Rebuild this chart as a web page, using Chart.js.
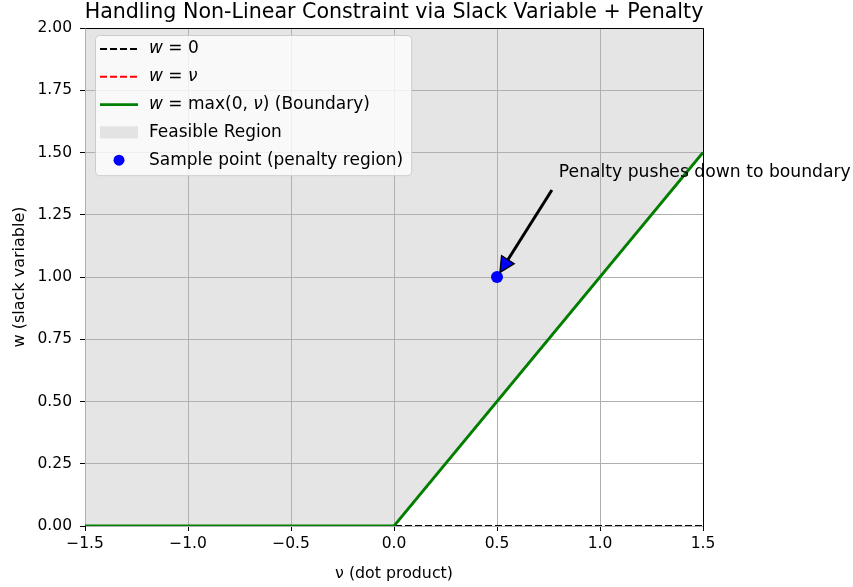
<!DOCTYPE html>
<html lang="en">
<head>
  <meta charset="UTF-8" />
  <title>Slack Variable + Penalty</title>
  <script src="https://cdn.jsdelivr.net/npm/chart.js"></script>
  <style>
    body { margin: 0; background: #fff; }
    .wrap { width: 853px; height: 587px; position: relative; }
  </style>
</head>
<body>
  <div class="wrap">
    <canvas id="chart"></canvas>
  </div>

  <script>
    // data
    const xTicks = [-1.5, -1.0, -0.5, 0.0, 0.5, 1.0, 1.5];
    const yTicks = [0, 0.25, 0.5, 0.75, 1.0, 1.25, 1.5, 1.75, 2.0];

    const zeroX = [-1.5, 1.5];
    const zeroY = [0, 0];
    const identX = [-1.5, 1.5];
    const identY = [-1.5, 1.5];
    const boundX = [-1.5, 0, 1.5];
    const boundY = [0, 0, 1.5];
    const sampleX = [0.5];
    const sampleY = [1.0];

    const noteText = 'Penalty pushes down to boundary';
    const noteFrom = [0.8, 1.4];
    const noteTo = [0.5, 1.0];

    const titleText = 'Handling Non-Linear Constraint via Slack Variable + Penalty';

    // legend labels as [text, italic] pieces (mathtext style)
    const legendLabels = [
      [['w', 1], [' = 0', 0]],
      [['w', 1], [' = ', 0], ['ν', 1]],
      [['w', 1], [' = max(0, ', 0], ['ν', 1], [') (Boundary)', 0]],
      [['Feasible Region', 0]],
      [['Sample point (penalty region)', 0]]
    ];

    const FONT = '"DejaVu Sans", Verdana, sans-serif';
    const FILL = 'rgba(211, 211, 211, 0.6)';
    const pts = (xs, ys) => xs.map((x, i) => ({ x: x, y: ys[i] }));
    const fmt = (v, d) => v.toFixed(d).replace('-', '\u2212');

    Chart.defaults.font.family = FONT;
    Chart.defaults.color = '#000';

    // matplotlib puts grid lines above the fill, so redraw them after it
    const gridOver = {
      id: 'gridOver',
      afterDatasetDraw(chart, args) {
        if (args.index !== 0) return;
        chart.scales.x.drawGrid(chart.chartArea);
        chart.scales.y.drawGrid(chart.chartArea);
      }
    };

    const frame = {
      id: 'frame',
      afterDraw(chart) {
        const { ctx, chartArea: a } = chart;
        ctx.save();
        ctx.strokeStyle = '#000';
        ctx.lineWidth = 1;
        ctx.beginPath();
        ctx.moveTo(Math.round(a.left) + 0.5, Math.round(a.top) + 0.5);
        ctx.lineTo(Math.round(a.right) + 0.5, Math.round(a.top) + 0.5);
        ctx.lineTo(Math.round(a.right) + 0.5, Math.round(a.bottom) + 0.5);
        ctx.stroke();

        // title
        ctx.font = '20.6px ' + FONT;
        ctx.fillStyle = '#000';
        ctx.textAlign = 'center';
        ctx.textBaseline = 'alphabetic';
        ctx.fillText(titleText, (a.left + a.right) / 2, 18);
        ctx.restore();
      }
    };

    const note = {
      id: 'note',
      afterDatasetsDraw(chart) {
        const { ctx, scales: { x, y } } = chart;
        const tx = x.getPixelForValue(noteFrom[0]), ty = y.getPixelForValue(noteFrom[1]);
        const px = x.getPixelForValue(noteTo[0]), py = y.getPixelForValue(noteTo[1]);
        const sx = tx - 4, sy = ty + 8;
        const dx = px - sx, dy = py - sy, len = Math.hypot(dx, dy);
        const ux = dx / len, uy = dy / len;
        const ax = sx + ux * len * 0.05, ay = sy + uy * len * 0.05;
        const bx = px - ux * len * 0.05, by = py - uy * len * 0.05;
        const headL = 15, headW = 7.5;
        const hx = bx - ux * headL, hy = by - uy * headL;

        ctx.save();
        ctx.strokeStyle = '#000';
        ctx.lineWidth = 3;
        ctx.beginPath();
        ctx.moveTo(ax, ay);
        ctx.lineTo(hx, hy);
        ctx.stroke();
        ctx.beginPath();
        ctx.moveTo(bx, by);
        ctx.lineTo(hx - uy * headW, hy + ux * headW);
        ctx.lineTo(hx + uy * headW, hy - ux * headW);
        ctx.closePath();
        ctx.fillStyle = 'blue';
        ctx.fill();
        ctx.lineWidth = 1.3;
        ctx.stroke();

        ctx.font = '17.2px ' + FONT;
        ctx.fillStyle = '#000';
        ctx.textAlign = 'left';
        ctx.textBaseline = 'alphabetic';
        ctx.fillText(noteText, tx, ty);
        ctx.restore();
      }
    };

    const mplLegend = {
      id: 'mplLegend',
      afterDraw(chart) {
        const { ctx, chartArea: a } = chart;
        const size = 17;
        const left = a.left + 10, top = a.top + 7;
        const hx0 = left + 5, hx1 = left + 43, textX = left + 54;
        const row0 = top + 14, step = 27.8;

        ctx.save();
        const widthOf = parts => parts.reduce((w, p) => {
          ctx.font = (p[1] ? 'italic ' : '') + size + 'px ' + FONT;
          return w + ctx.measureText(p[0]).width;
        }, 0);
        const maxW = Math.max(...legendLabels.map(widthOf));
        const w = textX - left + maxW + 8;
        const h = step * (legendLabels.length - 1) + 29;

        ctx.beginPath();
        ctx.roundRect(left + 0.5, top + 0.5, w, h, 4);
        ctx.fillStyle = 'rgba(255,255,255,0.8)';
        ctx.fill();
        ctx.strokeStyle = '#cccccc';
        ctx.lineWidth = 1;
        ctx.stroke();

        legendLabels.forEach((parts, i) => {
          const yy = row0 + i * step;
          ctx.setLineDash([]);
          if (i < 3) {
            ctx.strokeStyle = ['#000', 'red', 'green'][i];
            ctx.lineWidth = i === 2 ? 2.8 : 2;
            ctx.setLineDash(i === 2 ? [] : [7, 3]);
            ctx.beginPath();
            ctx.moveTo(hx0, yy);
            ctx.lineTo(hx1, yy);
            ctx.stroke();
          } else if (i === 3) {
            ctx.fillStyle = FILL;
            ctx.fillRect(hx0, yy - 6, hx1 - hx0, 12);
          } else {
            ctx.fillStyle = 'blue';
            ctx.beginPath();
            ctx.arc((hx0 + hx1) / 2, yy, 5.5, 0, Math.PI * 2);
            ctx.fill();
          }
          ctx.setLineDash([]);
          let cx = textX;
          ctx.fillStyle = '#000';
          ctx.textBaseline = 'middle';
          parts.forEach(p => {
            ctx.font = (p[1] ? 'italic ' : '') + size + 'px ' + FONT;
            ctx.fillText(p[0], cx, yy);
            cx += ctx.measureText(p[0]).width;
          });
        });
        ctx.restore();
      }
    };

    const tickFont = { size: 15.5, family: FONT };

    new Chart(document.getElementById('chart'), {
      type: 'line',
      data: {
        datasets: [
          {
            label: 'Feasible Region',
            data: pts(boundX, boundY),
            borderWidth: 0,
            pointRadius: 0,
            backgroundColor: FILL,
            fill: 'end',
            order: 6
          },
          {
            label: 'Sample point (penalty region)',
            data: pts(sampleX, sampleY),
            showLine: false,
            pointRadius: 6,
            pointBackgroundColor: 'blue',
            pointBorderWidth: 0,
            order: 5
          },
          {
            label: 'w = 0',
            data: pts(zeroX, zeroY),
            borderColor: '#000',
            borderWidth: 2,
            borderDash: [7, 3],
            pointRadius: 0,
            fill: false,
            order: 3
          },
          {
            label: 'w = ν',
            data: pts(identX, identY),
            borderColor: 'red',
            borderWidth: 2,
            borderDash: [7, 3],
            pointRadius: 0,
            fill: false,
            order: 2
          },
          {
            label: 'w = max(0, ν) (Boundary)',
            data: pts(boundX, boundY),
            borderColor: 'green',
            borderWidth: 2.8,
            pointRadius: 0,
            fill: false,
            order: 1
          }
        ]
      },
      options: {
        responsive: true,
        maintainAspectRatio: false,
        animation: false,
        layout: { padding: { top: 28, right: 150, left: 0, bottom: 0 } },
        plugins: {
          legend: { display: false },
          tooltip: { enabled: false }
        },
        scales: {
          x: {
            type: 'linear',
            min: -1.5,
            max: 1.5,
            afterBuildTicks: s => { s.ticks = xTicks.map(v => ({ value: v })); },
            afterFit: s => { s.height = 61; },
            ticks: { font: tickFont, color: '#000', padding: 4, maxRotation: 0, callback: v => fmt(v, 1) },
            grid: { color: '#b0b0b0', lineWidth: 1, tickColor: '#000', tickLength: 5, tickWidth: 1 },
            border: { display: true, color: '#000', width: 1 },
            title: { display: true, text: 'ν (dot product)', font: { size: 15.8, family: FONT }, color: '#000', padding: { top: 0, bottom: 4 } }
          },
          y: {
            type: 'linear',
            min: 0,
            max: 2,
            afterBuildTicks: s => { s.ticks = yTicks.map(v => ({ value: v })); },
            afterFit: s => { s.width = 85; },
            ticks: { font: tickFont, color: '#000', padding: 8, callback: v => fmt(v, 2) },
            grid: { color: '#b0b0b0', lineWidth: 1, tickColor: '#000', tickLength: 5, tickWidth: 1 },
            border: { display: true, color: '#000', width: 1 },
            title: { display: true, text: 'w (slack variable)', font: { size: 16, family: FONT }, color: '#000', padding: { top: 10, bottom: 0 } }
          }
        }
      },
      plugins: [gridOver, note, frame, mplLegend]
    });
  </script>
</body>
</html>
